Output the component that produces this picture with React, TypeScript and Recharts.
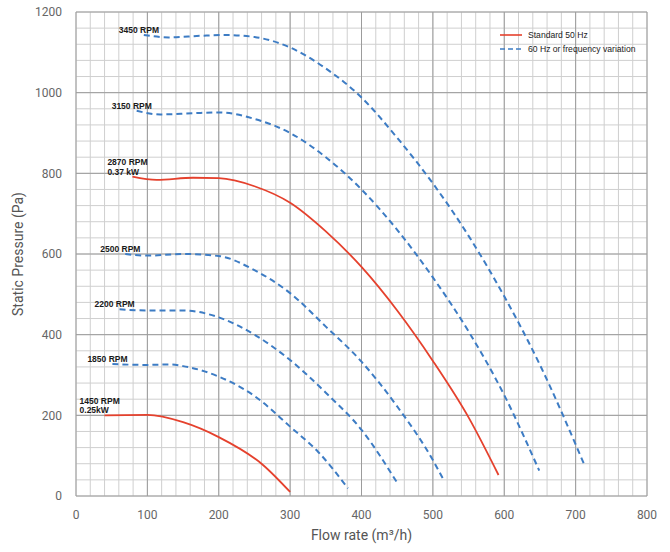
import { LineChart, Line, XAxis, YAxis, ReferenceLine, Label } from "recharts";

// axis ticks
const flowTicks = [0, 100, 200, 300, 400, 500, 600, 700, 800];
const pressureTicks = [0, 200, 400, 600, 800, 1000, 1200];
const minorFlowTicks = Array.from({ length: 41 }, (_, i) => i * 20);
const minorPressureTicks = Array.from({ length: 31 }, (_, i) => i * 40);

// fan curves (flow m3/h, static pressure Pa)
const rpm3450Flow = [95, 130, 175, 210, 250, 300, 350, 400, 450, 500, 550, 600, 650, 713];
const rpm3450Pressure = [1143, 1137, 1141, 1143, 1138, 1112, 1060, 988, 888, 775, 645, 495, 325, 74];

const rpm3150Flow = [85, 118, 164, 200, 250, 300, 350, 400, 450, 500, 550, 600, 649];
const rpm3150Pressure = [955, 946, 949, 951, 935, 900, 840, 760, 660, 542, 408, 250, 63];

const rpm2870Flow = [79, 113, 164, 200, 250, 300, 350, 400, 450, 500, 550, 592];
const rpm2870Pressure = [792, 784, 789, 788, 768, 727, 656, 568, 460, 335, 195, 52];

const rpm2500Flow = [69, 100, 150, 200, 250, 300, 350, 400, 450, 500, 515];
const rpm2500Pressure = [600, 596, 600, 595, 560, 503, 420, 333, 222, 89, 40];

const rpm2200Flow = [61, 100, 150, 200, 250, 300, 350, 400, 452];
const rpm2200Pressure = [463, 460, 460, 443, 400, 337, 256, 164, 27];

const rpm1850Flow = [51, 100, 132, 150, 200, 250, 300, 340, 381];
const rpm1850Pressure = [327, 325, 326, 322, 296, 248, 172, 108, 19];

const rpm1450Flow = [40, 100, 150, 200, 262, 300];
const rpm1450Pressure = [200, 201, 183, 146, 77, 10];

const RED = "#e5412d";
const BLUE = "#3d7cc4";

const toPoints = (flow: number[], pressure: number[]) =>
  flow.map((f, i) => ({ flow: f, pressure: pressure[i] }));

const curves = [
  { id: "3450", label: ["3450 RPM"], data: toPoints(rpm3450Flow, rpm3450Pressure), standard: false },
  { id: "3150", label: ["3150 RPM"], data: toPoints(rpm3150Flow, rpm3150Pressure), standard: false },
  { id: "2870", label: ["2870 RPM", "0.37 kW"], data: toPoints(rpm2870Flow, rpm2870Pressure), standard: true },
  { id: "2500", label: ["2500 RPM"], data: toPoints(rpm2500Flow, rpm2500Pressure), standard: false },
  { id: "2200", label: ["2200 RPM"], data: toPoints(rpm2200Flow, rpm2200Pressure), standard: false },
  { id: "1850", label: ["1850 RPM"], data: toPoints(rpm1850Flow, rpm1850Pressure), standard: false },
  { id: "1450", label: ["1450 RPM", "0.25kW"], data: toPoints(rpm1450Flow, rpm1450Pressure), standard: true },
];

// label text sits above-left of the first point of each curve
const curveLabel = (lines: string[]) => (props: any) => {
  if (props.index !== 0) return null;
  const x = props.x - 25;
  const n = lines.length;
  return (
    <text
      key={`lbl-${lines[0]}`}
      fontFamily="Liberation Sans, Arial, sans-serif"
      fontWeight="bold"
      fontSize={8.5}
      fill="#1a1a1a"
    >
      {lines.map((l, i) => (
        <tspan key={i} x={x} y={props.y - 2 - 9.5 * (n - 1 - i)}>
          {l}
        </tspan>
      ))}
    </text>
  );
};

function LegendBox() {
  const row = { display: "flex", alignItems: "center", height: 14 };
  const txt = { fontSize: 8.6, color: "#222", marginLeft: 6, whiteSpace: "nowrap" as const };
  return (
    <div
      style={{
        position: "absolute",
        top: 28,
        left: 500,
        fontFamily: "Liberation Sans, Arial, sans-serif",
        pointerEvents: "none",
      }}
    >
      <div style={row}>
        <svg width={22} height={4}>
          <line x1={0} y1={2} x2={22} y2={2} stroke={RED} strokeWidth={1.6} />
        </svg>
        <span style={txt}>Standard 50 Hz</span>
      </div>
      <div style={row}>
        <svg width={22} height={4}>
          <line x1={0} y1={2} x2={22} y2={2} stroke={BLUE} strokeWidth={1.6} strokeDasharray="5 3" />
        </svg>
        <span style={txt}>60 Hz or frequency variation</span>
      </div>
    </div>
  );
}

export default function App() {
  return (
    <div style={{ position: "fixed", left: 0, top: 0, width: 670, height: 552, background: "#fff" }}>
      <LineChart width={670} height={552} margin={{ top: 12, right: 23, bottom: 6, left: 16 }}>
        <XAxis
          dataKey="flow"
          type="number"
          domain={[0, 800]}
          ticks={flowTicks}
          allowDuplicatedCategory={false}
          axisLine={false}
          tickLine={false}
          tickSize={0}
          tickMargin={14}
          height={50}
          tick={{ fill: "#666", fontSize: 12, fontFamily: "Roboto, sans-serif" }}
        >
          <Label
            value="Flow rate (m³/h)"
            position="insideBottom"
            offset={6}
            style={{ fill: "#555", fontSize: 14, fontFamily: "Roboto, sans-serif" }}
          />
        </XAxis>
        <YAxis
          type="number"
          domain={[0, 1200]}
          ticks={pressureTicks}
          axisLine={false}
          tickLine={false}
          tickSize={0}
          tickMargin={14}
          width={60}
          tick={{ fill: "#666", fontSize: 12, fontFamily: "Roboto, sans-serif" }}
        >
          <Label
            value="Static Pressure (Pa)"
            angle={-90}
            position="insideLeft"
            offset={2}
            style={{ textAnchor: "middle", fill: "#555", fontSize: 14, fontFamily: "Roboto, sans-serif" }}
          />
        </YAxis>
        {/* fine grid */}
        {minorFlowTicks.map((v) => (
          <ReferenceLine key={`vx${v}`} x={v} stroke="#cfcfcf" strokeWidth={1} />
        ))}
        {minorPressureTicks.map((v) => (
          <ReferenceLine key={`hy${v}`} y={v} stroke="#cfcfcf" strokeWidth={1} />
        ))}
        {/* main grid */}
        {flowTicks.map((v) => (
          <ReferenceLine key={`VX${v}`} x={v} stroke="#9c9c9c" strokeWidth={1} />
        ))}
        {pressureTicks.map((v) => (
          <ReferenceLine key={`HY${v}`} y={v} stroke="#9c9c9c" strokeWidth={1} />
        ))}
        {curves.map((c) => (
          <Line
            key={c.id}
            data={c.data}
            dataKey="pressure"
            type="monotone"
            stroke={c.standard ? RED : BLUE}
            strokeWidth={c.standard ? 1.8 : 2}
            strokeDasharray={c.standard ? undefined : "6 4"}
            dot={false}
            activeDot={false}
            label={curveLabel(c.label)}
            isAnimationActive={false}
          />
        ))}
      </LineChart>
      <LegendBox />
    </div>
  );
}
